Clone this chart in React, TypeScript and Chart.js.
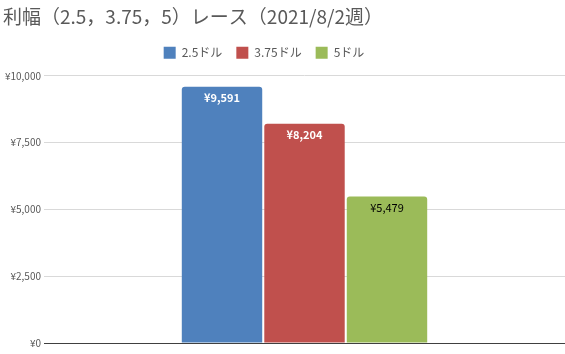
import React, { useEffect, useRef } from "react";
import { Chart, registerables } from "chart.js";

Chart.register(...registerables);

const categories = [""];
const seriesNames = ["2.5ドル", "3.75ドル", "5ドル"];
const series25 = [9591];
const series375 = [8204];
const series5 = [5479];
const yTicks = [0, 2500, 5000, 7500, 10000];

const colors = ["#4F81BD", "#C0504D", "#9BBB59"];
const labelColors = ["#FFFFFF", "#FFFFFF", "#000000"];
const labelBold = [true, true, false];

const FONT = "'Noto Sans CJK JP', 'Noto Sans', sans-serif";

const yen = (v: number) => "¥" + v.toLocaleString("en-US");

const labelPlugin = {
  id: "barLabels",
  afterInit(chart: any) {
    const lg = chart.legend;
    if (lg) {
      const orig = lg.fit;
      lg.fit = function () {
        orig.call(this);
        this.height += 7;
      };
    }
  },
  afterLayout(chart: any) {
    const lg = chart.legend;
    if (lg) {
      lg.left -= 20;
      lg.right -= 20;
    }
  },
  afterDatasetsDraw(chart: any) {
    const ctx = chart.ctx;
    chart.data.datasets.forEach((ds: any, i: number) => {
      const meta = chart.getDatasetMeta(i);
      meta.data.forEach((bar: any, j: number) => {
        const v = ds.data[j];
        ctx.save();
        ctx.font = `${labelBold[i] ? "bold " : ""}11px ${FONT}`;
        ctx.fillStyle = labelColors[i];
        ctx.textAlign = "center";
        ctx.textBaseline = "middle";
        ctx.fillText(yen(v), bar.x, bar.y + 11);
        ctx.restore();
      });
    });
  },
};

export default function App() {
  const ref = useRef<HTMLCanvasElement>(null);
  useEffect(() => {
    document.body.style.margin = "0";
    const chart = new Chart(ref.current!, {
      type: "bar",
      data: {
        labels: categories,
        datasets: [series25, series375, series5].map((d, i) => ({
          label: seriesNames[i],
          data: d,
          backgroundColor: colors[i],
          borderRadius: { topLeft: 3, topRight: 3, bottomLeft: 0, bottomRight: 0 },
          borderSkipped: false,
          categoryPercentage: 0.475,
          barPercentage: 0.975,
        })),
      },
      options: {
        animation: false,
        responsive: false,
        maintainAspectRatio: false,
        layout: { padding: { left: 3, right: 0, top: 5, bottom: 3 } },
        plugins: {
          title: {
            display: true,
            text: "利幅（2.5，3.75，5）レース（2021/8/2週）",
            align: "start",
            color: "#595959",
            font: { family: FONT, size: 19, weight: "normal" },
            padding: { top: 0, bottom: 5 },
          },
          legend: {
            display: true,
            position: "top",
            labels: {
              color: "#595959",
              font: { family: FONT, size: 12 },
              boxWidth: 12,
              boxHeight: 12,
              padding: 14,
            },
          },
          tooltip: { enabled: false },
        },
        scales: {
          x: {
            ticks: { display: false },
            grid: { display: false },
            border: { color: "#404040", width: 1 },
          },
          y: {
            min: 0,
            max: 10000,
            afterBuildTicks: (scale: any) => {
              scale.ticks = yTicks.map((v) => ({ value: v }));
            },
            afterFit: (scale: any) => {
              scale.width = 41;
            },
            ticks: {
              color: "#595959",
              font: { family: FONT, size: 10 },
              padding: 3,
              callback: (v: any) => yen(Number(v)),
            },
            grid: {
              color: (c: any) => (c.tick && c.tick.value === 0 ? "#404040" : "#D9D9D9"),
              drawTicks: false,
            },
            border: { display: false },
          },
        },
      },
      plugins: [labelPlugin],
    });
    return () => chart.destroy();
  }, []);
  return (
    <div style={{ position: "fixed", left: 0, top: 0, width: 565, height: 354, background: "#fff" }}>
      <canvas ref={ref} width={565} height={354} />
    </div>
  );
}
